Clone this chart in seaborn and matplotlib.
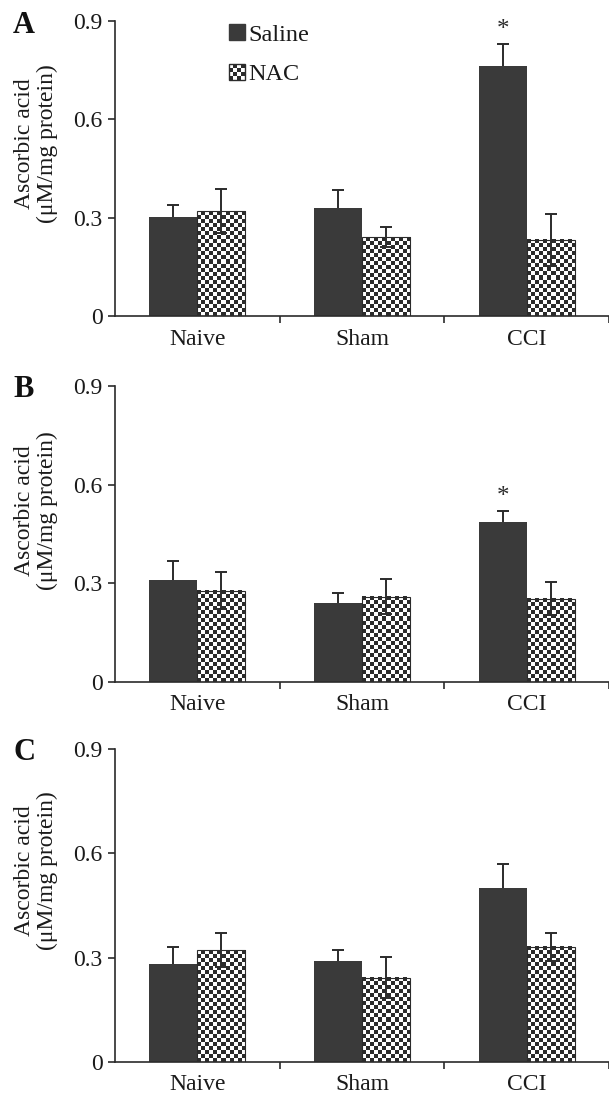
import matplotlib
matplotlib.use('Agg')
import matplotlib.pyplot as plt
import numpy as np
import pandas as pd
import seaborn as sns
from matplotlib.colors import ListedColormap
from matplotlib.legend_handler import HandlerBase
from matplotlib.patches import Patch, Rectangle

# 数据
groups = ['Naive', 'Sham', 'CCI']
treatments = ['Saline', 'NAC']
panel_letters = ['A', 'B', 'C']

saline_a = [0.302, 0.329, 0.763]
saline_a_err = [0.037, 0.055, 0.067]
nac_a = [0.320, 0.241, 0.232]
nac_a_err = [0.067, 0.031, 0.079]

saline_b = [0.309, 0.240, 0.485]
saline_b_err = [0.059, 0.032, 0.035]
nac_b = [0.278, 0.259, 0.253]
nac_b_err = [0.056, 0.053, 0.050]

saline_c = [0.281, 0.291, 0.500]
saline_c_err = [0.049, 0.030, 0.070]
nac_c = [0.321, 0.242, 0.331]
nac_c_err = [0.049, 0.059, 0.040]

# 显著性标记：(组索引)
stars_a = [2]
stars_b = [2]
stars_c = []

y_ticks = [0, 0.3, 0.6, 0.9]
y_ticklabels = ['0', '0.3', '0.6', '0.9']
y_label = 'Ascorbic acid\n(\u03bcM/mg protein)'

DARK = '#3a3a3a'
LINE = '#2b2b2b'

sns.set_style('ticks')
plt.rcParams['font.family'] = ['Liberation Serif', 'DejaVu Serif']
plt.rcParams['axes.unicode_minus'] = False


class HandlerChecker(HandlerBase):
    """图例中的棋盘格方块。"""
    def create_artists(self, legend, orig_handle, xdescent, ydescent,
                       width, height, fontsize, trans):
        n = 4
        side = min(width, height)
        x0, y0 = -xdescent, -ydescent + (height - side) / 2
        cell = side / n
        arts = []
        for i in range(n):
            for j in range(n):
                c = LINE if (i + j) % 2 == 0 else 'white'
                arts.append(Rectangle((x0 + j * cell, y0 + i * cell), cell, cell,
                                      facecolor=c, edgecolor='none', transform=trans))
        arts.append(Rectangle((x0, y0), side, side, facecolor='none',
                              edgecolor=LINE, linewidth=1.0, transform=trans))
        return arts


def draw_panel(ax, saline, saline_err, nac, nac_err, stars):
    df = pd.DataFrame({
        'group': groups * 2,
        'treatment': ['Saline'] * 3 + ['NAC'] * 3,
        'value': list(saline) + list(nac),
    })
    sns.barplot(data=df, x='group', y='value', hue='treatment',
                hue_order=treatments, order=groups,
                palette={'Saline': DARK, 'NAC': 'white'}, saturation=1,
                width=0.584, errorbar=None, legend=False, ax=ax,
                linewidth=0)
    xlim = (-0.5, 2.476)
    ylim = (0, 0.9)
    ax.set_xlim(*xlim)
    ax.set_ylim(*ylim)

    # NAC 柱：棋盘格填充
    cmap = ListedColormap([LINE, 'white'])
    for rect in ax.containers[1]:
        x0, w, h = rect.get_x(), rect.get_width(), rect.get_height()
        p0 = ax.transData.transform((x0, 0))
        p1 = ax.transData.transform((x0 + w, h))
        ncol = max(1, int(round((p1[0] - p0[0]) / 4.0)))
        nrow = max(1, int(round((p1[1] - p0[1]) / 4.0)))
        board = np.add.outer(np.arange(nrow), np.arange(ncol)) % 2
        ax.imshow(board, extent=(x0, x0 + w, 0, h), origin='lower',
                  cmap=cmap, interpolation='nearest', aspect='auto', zorder=2)
        rect.set_facecolor('none')
        rect.set_edgecolor(LINE)
        rect.set_linewidth(0.8)
        rect.set_zorder(3)
    ax.set_xlim(*xlim)
    ax.set_ylim(*ylim)

    # 误差线（Saline 只画上半部分）
    xs_s = [r.get_x() + r.get_width() / 2 for r in ax.containers[0]]
    eb = ax.errorbar(xs_s, saline, yerr=[np.zeros(len(saline)), saline_err],
                     fmt='none', ecolor=LINE, elinewidth=1.4, capsize=4,
                     capthick=1.4, zorder=4)
    eb[1][0].set_visible(False)  # 去掉下端帽
    xs_n = [r.get_x() + r.get_width() / 2 for r in ax.containers[1]]
    ax.errorbar(xs_n, nac, yerr=nac_err, fmt='none', ecolor=LINE,
                elinewidth=1.4, capsize=4, capthick=1.4, zorder=4)

    for gi in stars:
        ax.text(xs_s[gi], saline[gi] + saline_err[gi] + 0.01,
                '*', ha='center', va='bottom', fontsize=18, color=LINE)

    sns.despine(ax=ax)
    for s in ['left', 'bottom']:
        ax.spines[s].set_linewidth(1.2)
        ax.spines[s].set_color(LINE)

    ax.set_yticks(y_ticks)
    ax.set_yticklabels(y_ticklabels)
    ax.set_xticks(range(len(groups)))
    ax.set_xticklabels(groups)
    ax.set_xticks([0.5, 1.5, 2.5], minor=True)
    ax.tick_params(axis='x', which='major', length=0, pad=9, labelsize=17,
                   colors='#1a1a1a')
    ax.tick_params(axis='x', which='minor', length=5, width=1.2, direction='out',
                   color=LINE)
    ax.tick_params(axis='y', length=5, width=1.2, direction='out', pad=4,
                   labelsize=17, color=LINE, labelcolor='#1a1a1a')
    ax.set_xlabel('')
    ax.set_ylabel(y_label, fontsize=17, color='#1a1a1a', linespacing=1.1)


W, H = 609, 1095
fig = plt.figure(figsize=(W / 100, H / 100), dpi=100)

# 各子图的像素位置 (top, bottom)
panel_px = [(21, 316), (386, 682), (749, 1062)]
label_y = [0.586, 0.578, 0.613]
letter_base = [33, 397, 760]
panel_data = [
    (saline_a, saline_a_err, nac_a, nac_a_err, stars_a),
    (saline_b, saline_b_err, nac_b, nac_b_err, stars_b),
    (saline_c, saline_c_err, nac_c, nac_c_err, stars_c),
]

axes = []
for i, (top, bot) in enumerate(panel_px):
    left = 115 / W
    ax = fig.add_axes([left, 1 - bot / H, 1 - left, (bot - top) / H])
    draw_panel(ax, *panel_data[i])
    ax.yaxis.set_label_coords(-0.115, label_y[i])
    fig.text(13 / W, 1 - letter_base[i] / H, panel_letters[i], fontsize=22,
             fontweight='bold', color='#111111', va='baseline', ha='left')
    axes.append(ax)

handles = [Patch(facecolor=DARK, edgecolor=DARK), Patch(facecolor='white')]
leg = axes[0].legend(handles, treatments, loc='upper left',
                     bbox_to_anchor=(0.231, 0.99), frameon=False, fontsize=17.5,
                     handlelength=0.65, handleheight=0.65, handletextpad=0.15,
                     labelspacing=0.74, borderpad=0, borderaxespad=0,
                     handler_map={handles[1]: HandlerChecker()})
for t in leg.get_texts():
    t.set_color('#1a1a1a')

fig.savefig('out.png', dpi=100)
plt.close(fig)
